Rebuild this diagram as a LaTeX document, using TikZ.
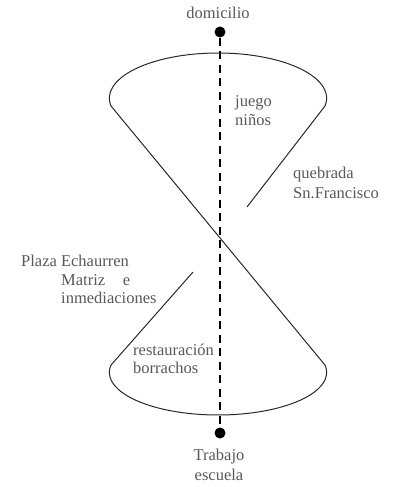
\documentclass[tikz,border=0pt]{standalone}
\usepackage{fontspec}
\setmainfont{Liberation Serif}
\definecolor{txtgray}{RGB}{88,88,88}
\definecolor{linegray}{RGB}{40,40,40}
\begin{document}
\begin{tikzpicture}[x=1pt,y=-1pt,
  lbl/.style={text=txtgray,font=\fontsize{16.5}{19}\selectfont,inner sep=0pt},
  outline/.style={draw=linegray,line width=1pt},
  dot/.style={circle,fill=black,inner sep=0pt,minimum size=11pt},
  axis/.style={draw=black,line width=2pt,dash pattern=on 8pt off 5.5pt}]
\useasboundingbox (0,0) rectangle (400,487);
% dots
\node[dot] (top) at (220,32) {};
\node[dot] (bot) at (220,433) {};
% dashed axis
\draw[axis] (top.south) -- (bot.north);
% upper arc
\draw[outline] plot[domain=170:370,samples=80] ({218+108.6*cos(\x)},{98.2+45.2*sin(\x)});
% lower arc
\draw[outline] plot[domain=-10:190,samples=80] ({218+108.6*cos(\x)},{372.4+42.6*sin(\x)});
% corners
\coordinate (tl) at (111.05,106.05);
\coordinate (tr) at (324.95,106.05);
\coordinate (bl) at (111.05,365.0);
\coordinate (br) at (324.95,365.0);
\coordinate (g1) at (247,207);
\coordinate (g2) at (193,272);
\draw[outline] (tl) -- (br);
\draw[outline] (tr) -- (g1);
\draw[outline] (g2) -- (bl);
% labels
\node[lbl,anchor=base] (domicilio) at (218,19) {domicilio};
\node[lbl,anchor=base west] (juego) at (235,106) {juego};
\node[lbl,anchor=base west] (ninos) at (235,125) {niños};
\node[lbl,anchor=base west] (quebrada) at (293,178) {quebrada};
\node[lbl,anchor=base west] (sn) at (293,198) {Sn.Francisco};
\node[lbl,anchor=base west] (plaza) at (21,266) {Plaza Echaurren};
\node[lbl,anchor=base west] (matriz) at (61,285) {\makebox[69pt][s]{Matriz\hfill e}};
\node[lbl,anchor=base west] (inmed) at (61,303) {inmediaciones};
\node[lbl,anchor=base west] (resta) at (133,355) {restauración};
\node[lbl,anchor=base west] (borr) at (133,373) {borrachos};
\node[lbl,anchor=base] (trabajo) at (219,460) {Trabajo};
\node[lbl,anchor=base] (escuela) at (219,480) {escuela};
\end{tikzpicture}
\end{document}
